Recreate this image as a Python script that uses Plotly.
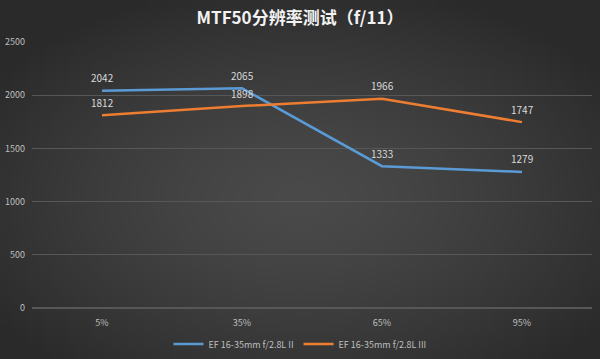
import base64
import struct
import zlib

import plotly.graph_objects as go

categories = ["5%", "35%", "65%", "95%"]
series_names = ["EF 16-35mm f/2.8L II", "EF 16-35mm f/2.8L III"]
values_ii = [2042, 2065, 1333, 1279]
values_iii = [1812, 1898, 1966, 1747]
y_ticks = [0, 500, 1000, 1500, 2000, 2500]

colors = ["#5b9bd5", "#ed7d31"]
font_cjk = "Noto Sans CJK SC, Open Sans, sans-serif"


def gradient_png(w=150, h=90, inner=74, outer=42):
    rows = []
    cx, cy = w / 2, h * 0.55
    for j in range(h):
        row = bytearray([0])
        for i in range(w):
            dx = (i - cx) / (w / 2)
            dy = (j - cy) / (h / 2)
            r = min(1.0, (dx * dx + dy * dy) ** 0.5 / 1.25)
            v = int(inner + (outer - inner) * r ** 1.4)
            row += bytes([v, v, v])
        rows.append(bytes(row))
    raw = b"".join(rows)

    def chunk(t, d):
        c = struct.pack(">I", len(d)) + t + d
        return c + struct.pack(">I", zlib.crc32(t + d) & 0xFFFFFFFF)

    png = b"\x89PNG\r\n\x1a\n"
    png += chunk(b"IHDR", struct.pack(">IIBBBBB", w, h, 8, 2, 0, 0, 0))
    png += chunk(b"IDAT", zlib.compress(raw, 9))
    png += chunk(b"IEND", b"")
    return "data:image/png;base64," + base64.b64encode(png).decode()


fig = go.Figure()
for name, vals, c in zip(series_names, [values_ii, values_iii], colors):
    fig.add_trace(go.Scatter(
        x=categories, y=vals, name=name, mode="lines",
        line=dict(color=c, width=2.5),
    ))
    for cat, v in zip(categories, vals):
        fig.add_annotation(x=cat, y=v, text=str(v), showarrow=False,
                           yshift=13, font=dict(color="#d9d9d9", size=10, family=font_cjk))

fig.update_layout(
    width=600, height=359,
    margin=dict(l=32, r=8, t=42, b=51),
    paper_bgcolor="#3a3a3a", plot_bgcolor="rgba(0,0,0,0)",
    images=[dict(source=gradient_png(), xref="paper", yref="paper",
                 x=-32 / 560, y=1 + 42 / 266, sizex=600 / 560, sizey=359 / 266,
                 xanchor="left", yanchor="top", sizing="stretch", layer="below")],
    title=dict(text="<b>MTF50分辨率测试（f/11）</b>", x=0.5, xanchor="center",
               y=1 - 18 / 359, yanchor="middle",
               font=dict(color="#f2f2f2", size=17, family=font_cjk)),
    xaxis=dict(showgrid=False, showline=False, zeroline=False, automargin=False,
               tickfont=dict(color="#bfbfbf", size=9, family=font_cjk),
               ticks="", range=[-0.5, 3.5], ticklabelstandoff=8),
    yaxis=dict(range=[0, 2500], tickvals=y_ticks, showgrid=True, automargin=False,
               gridcolor="#575757", gridwidth=1, zeroline=True,
               zerolinecolor="#575757", showline=False, ticks="",
               ticklabelstandoff=6,
               tickfont=dict(color="#bfbfbf", size=9, family=font_cjk)),
    legend=dict(orientation="h", x=0.5, xanchor="center", xref="container",
                y=15 / 359, yanchor="middle", yref="container",
                font=dict(color="#bfbfbf", size=9, family=font_cjk),
                itemwidth=30, bgcolor="rgba(0,0,0,0)"),
    showlegend=True,
)

fig.write_html("out.html", config={"displayModeBar": False})
with open("out.html", "r", encoding="utf-8") as f:
    html = f.read()
html = html.replace("<head>", "<head><style>html,body{margin:0;padding:0;background:#2c2c2c;}</style>", 1)
with open("out.html", "w", encoding="utf-8") as f:
    f.write(html)
